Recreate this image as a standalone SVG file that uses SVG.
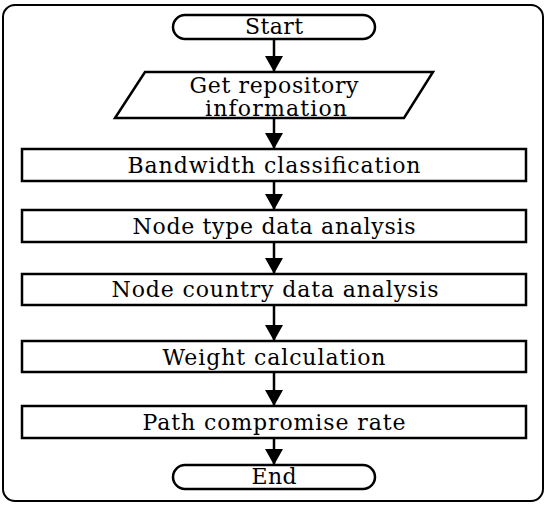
<svg xmlns="http://www.w3.org/2000/svg" width="550" height="506" viewBox="0 0 550 506">
<style>
.shape{fill:#fff;stroke:#000;stroke-width:2.5}
.frame{fill:#fff;stroke:#000;stroke-width:2}
.conn{stroke:#000;stroke-width:2.5;fill:none}
text{font-family:"DejaVu Serif","Liberation Serif",serif;font-size:22px;fill:#000;text-anchor:middle}
</style>
<defs>
<marker id="ah" markerUnits="userSpaceOnUse" markerWidth="20" markerHeight="18" viewBox="0 0 16 18" refX="16" refY="9" orient="auto">
<path d="M0,0 L16,9 L0,18 Z" fill="#000"/>
</marker>
</defs>
<rect class="frame" x="3" y="5" width="540" height="496" rx="12"/>
<g id="connectors">
<line class="conn" x1="274" y1="39" x2="274" y2="72" marker-end="url(#ah)"/>
<line class="conn" x1="274" y1="118" x2="274" y2="149" marker-end="url(#ah)"/>
<line class="conn" x1="274" y1="181" x2="274" y2="210" marker-end="url(#ah)"/>
<line class="conn" x1="274" y1="242" x2="274" y2="274" marker-end="url(#ah)"/>
<line class="conn" x1="274" y1="305" x2="274" y2="341" marker-end="url(#ah)"/>
<line class="conn" x1="274" y1="372" x2="274" y2="406" marker-end="url(#ah)"/>
<line class="conn" x1="274" y1="438" x2="274" y2="465" marker-end="url(#ah)"/>
</g>
<g id="start">
<rect class="shape" x="173" y="15" width="202" height="24" rx="12"/>
<text x="274" y="34" textLength="58">Start</text>
</g>
<g id="get-repo">
<polygon class="shape" points="145,72 433,72 404,118 115,118"/>
<text x="274" y="93" textLength="169">Get repository</text>
<text x="276" y="116" textLength="142">information</text>
</g>
<g id="bandwidth">
<rect class="shape" x="22" y="149" width="504" height="32"/>
<text x="274" y="173" textLength="293">Bandwidth classification</text>
</g>
<g id="node-type">
<rect class="shape" x="22" y="210" width="504" height="32"/>
<text x="274" y="234" textLength="283">Node type data analysis</text>
</g>
<g id="node-country">
<rect class="shape" x="22" y="274" width="504" height="31"/>
<text x="275" y="297" textLength="327">Node country data analysis</text>
</g>
<g id="weight">
<rect class="shape" x="22" y="341" width="504" height="31"/>
<text x="274" y="365" textLength="223">Weight calculation</text>
</g>
<g id="path-rate">
<rect class="shape" x="22" y="406" width="504" height="32"/>
<text x="274" y="430" textLength="263">Path compromise rate</text>
</g>
<g id="end">
<rect class="shape" x="173" y="465" width="202" height="24" rx="12"/>
<text x="274" y="484" textLength="45">End</text>
</g>
</svg>
